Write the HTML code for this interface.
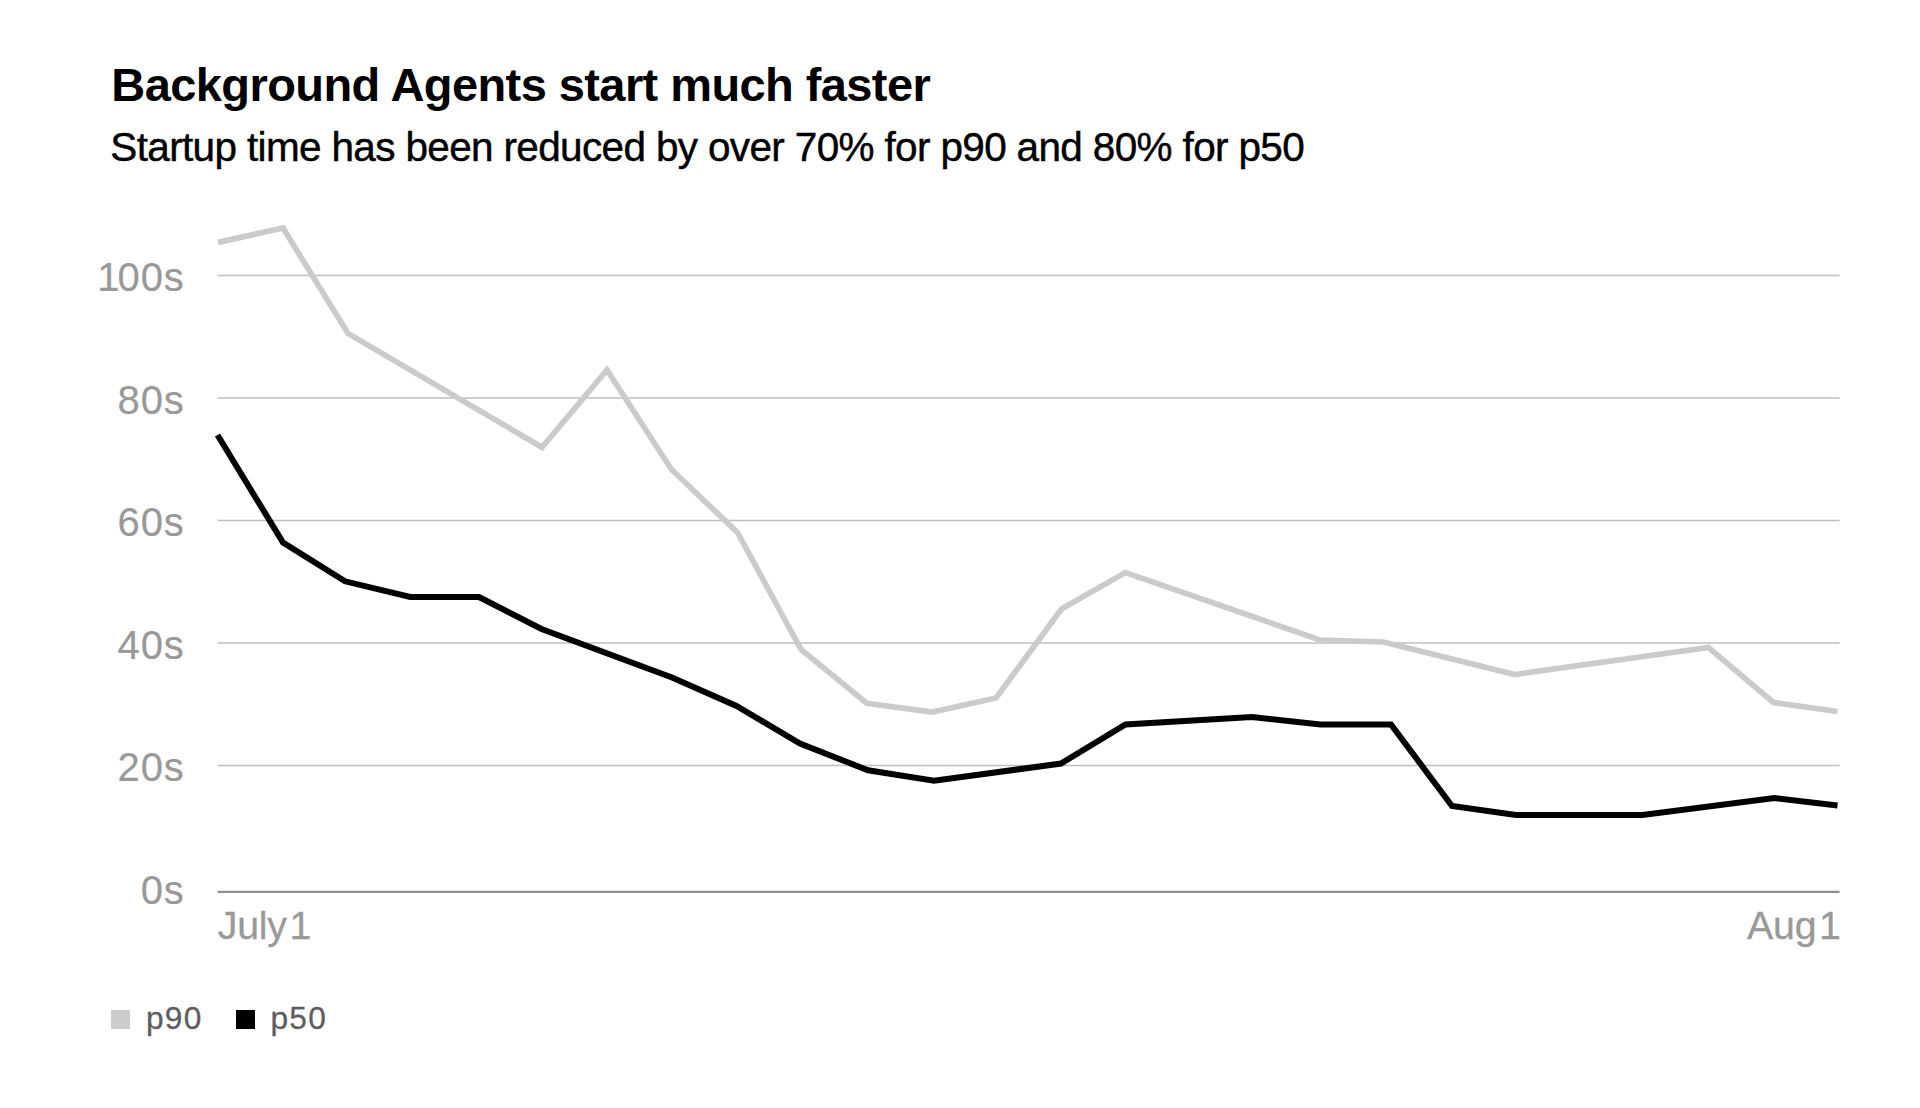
<!DOCTYPE html>
<html lang="en">
<head>
<meta charset="utf-8">
<title>Background Agents start much faster</title>
<style>
  html, body { margin: 0; padding: 0; background: #ffffff; }
  body { width: 1920px; height: 1108px; position: relative; overflow: hidden;
         font-family: "Liberation Sans", Arial, Helvetica, sans-serif; }
  .t { position: absolute; white-space: nowrap; line-height: 1; margin: 0; }
  #title { left: 111.3px; top: 60.5px; font-size: 47px; font-weight: 700; color: #000; letter-spacing: -0.58px; }
  #subtitle { -webkit-text-stroke: 0.45px #000; left: 110.3px; top: 126.5px; font-size: 40.5px; font-weight: 400; color: #000; letter-spacing: -0.65px; }
  .yl { -webkit-text-stroke: 0.2px #999; right: 1735.5px; font-size: 40px; color: #999999; text-align: right; letter-spacing: 0.8px; }
  .yl .one { letter-spacing: -2px; }
  .xl { -webkit-text-stroke: 0.3px #999; font-size: 39.3px; color: #999999; letter-spacing: -0.2px; word-spacing: -8px; }
  .lg { -webkit-text-stroke: 0.3px #5e5e5e; font-size: 31.7px; color: #5e5e5e; letter-spacing: 1.35px; }
  .sw { position: absolute; width: 19px; height: 19px; top: 1009.6px; }
  svg { position: absolute; left: 0; top: 0; }
</style>
</head>
<body>
<h1 class="t" id="title">Background Agents start much faster</h1>
<p class="t" id="subtitle">Startup time has been reduced by over 70% for p90 and 80% for p50</p>

<svg width="1920" height="1108" viewBox="0 0 1920 1108">
  <g stroke="#bfbfbf" stroke-width="1.6" fill="none">
    <line x1="217.6" y1="275.5" x2="1839.6" y2="275.5"/>
    <line x1="217.6" y1="398" x2="1839.6" y2="398"/>
    <line x1="217.6" y1="520.5" x2="1839.6" y2="520.5"/>
    <line x1="217.6" y1="643" x2="1839.6" y2="643"/>
    <line x1="217.6" y1="765.5" x2="1839.6" y2="765.5"/>
  </g>
  <line x1="217.6" y1="891.85" x2="1839.6" y2="891.85" stroke="#8f8f8f" stroke-width="2.1"/>
  <polyline fill="none" stroke="#cbcbcb" stroke-width="5.7" stroke-linejoin="miter" stroke-linecap="butt"
    points="218,242.4 283,228 348,333.5 542,447.3 607,370 671.5,469.5 737.5,532.5 801,649.5 866.8,703.2 932.2,712 996,698 1061.5,609 1125.5,572.5 1320,640 1383.5,642 1515,674.5 1708.5,647.5 1773.5,702.5 1837.5,711.5"/>
  <polyline fill="none" stroke="#000000" stroke-width="6" stroke-linejoin="miter" stroke-linecap="butt"
    points="217.5,435 283,542.5 345,581.3 410.2,597 479,597 541.5,629 672,677.5 736.5,706 800,743.5 868,770.3 934,780.8 1061,763.5 1125.5,724.5 1252,717 1320.5,724.5 1391,724.5 1452,806 1516,815 1642.5,815 1774.5,798 1837.5,805.5"/>
</svg>

<div class="t yl" style="top:257.4px"><span class="one">1</span>00s</div>
<div class="t yl" style="top:379.9px">80s</div>
<div class="t yl" style="top:502.4px">60s</div>
<div class="t yl" style="top:624.9px">40s</div>
<div class="t yl" style="top:747.4px">20s</div>
<div class="t yl" style="top:869.9px">0s</div>

<div class="t xl" style="left:217.7px; top:906.4px; word-spacing:-8px">July 1</div>
<div class="t xl" style="left:1747px; top:906.4px; word-spacing:-8px">Aug 1</div>

<div class="sw" style="left:111px; background:#cccccc"></div>
<div class="t lg" style="left:145.9px; top:1003px">p90</div>
<div class="sw" style="left:236px; background:#000000"></div>
<div class="t lg" style="left:270.4px; top:1003px">p50</div>
</body>
</html>
